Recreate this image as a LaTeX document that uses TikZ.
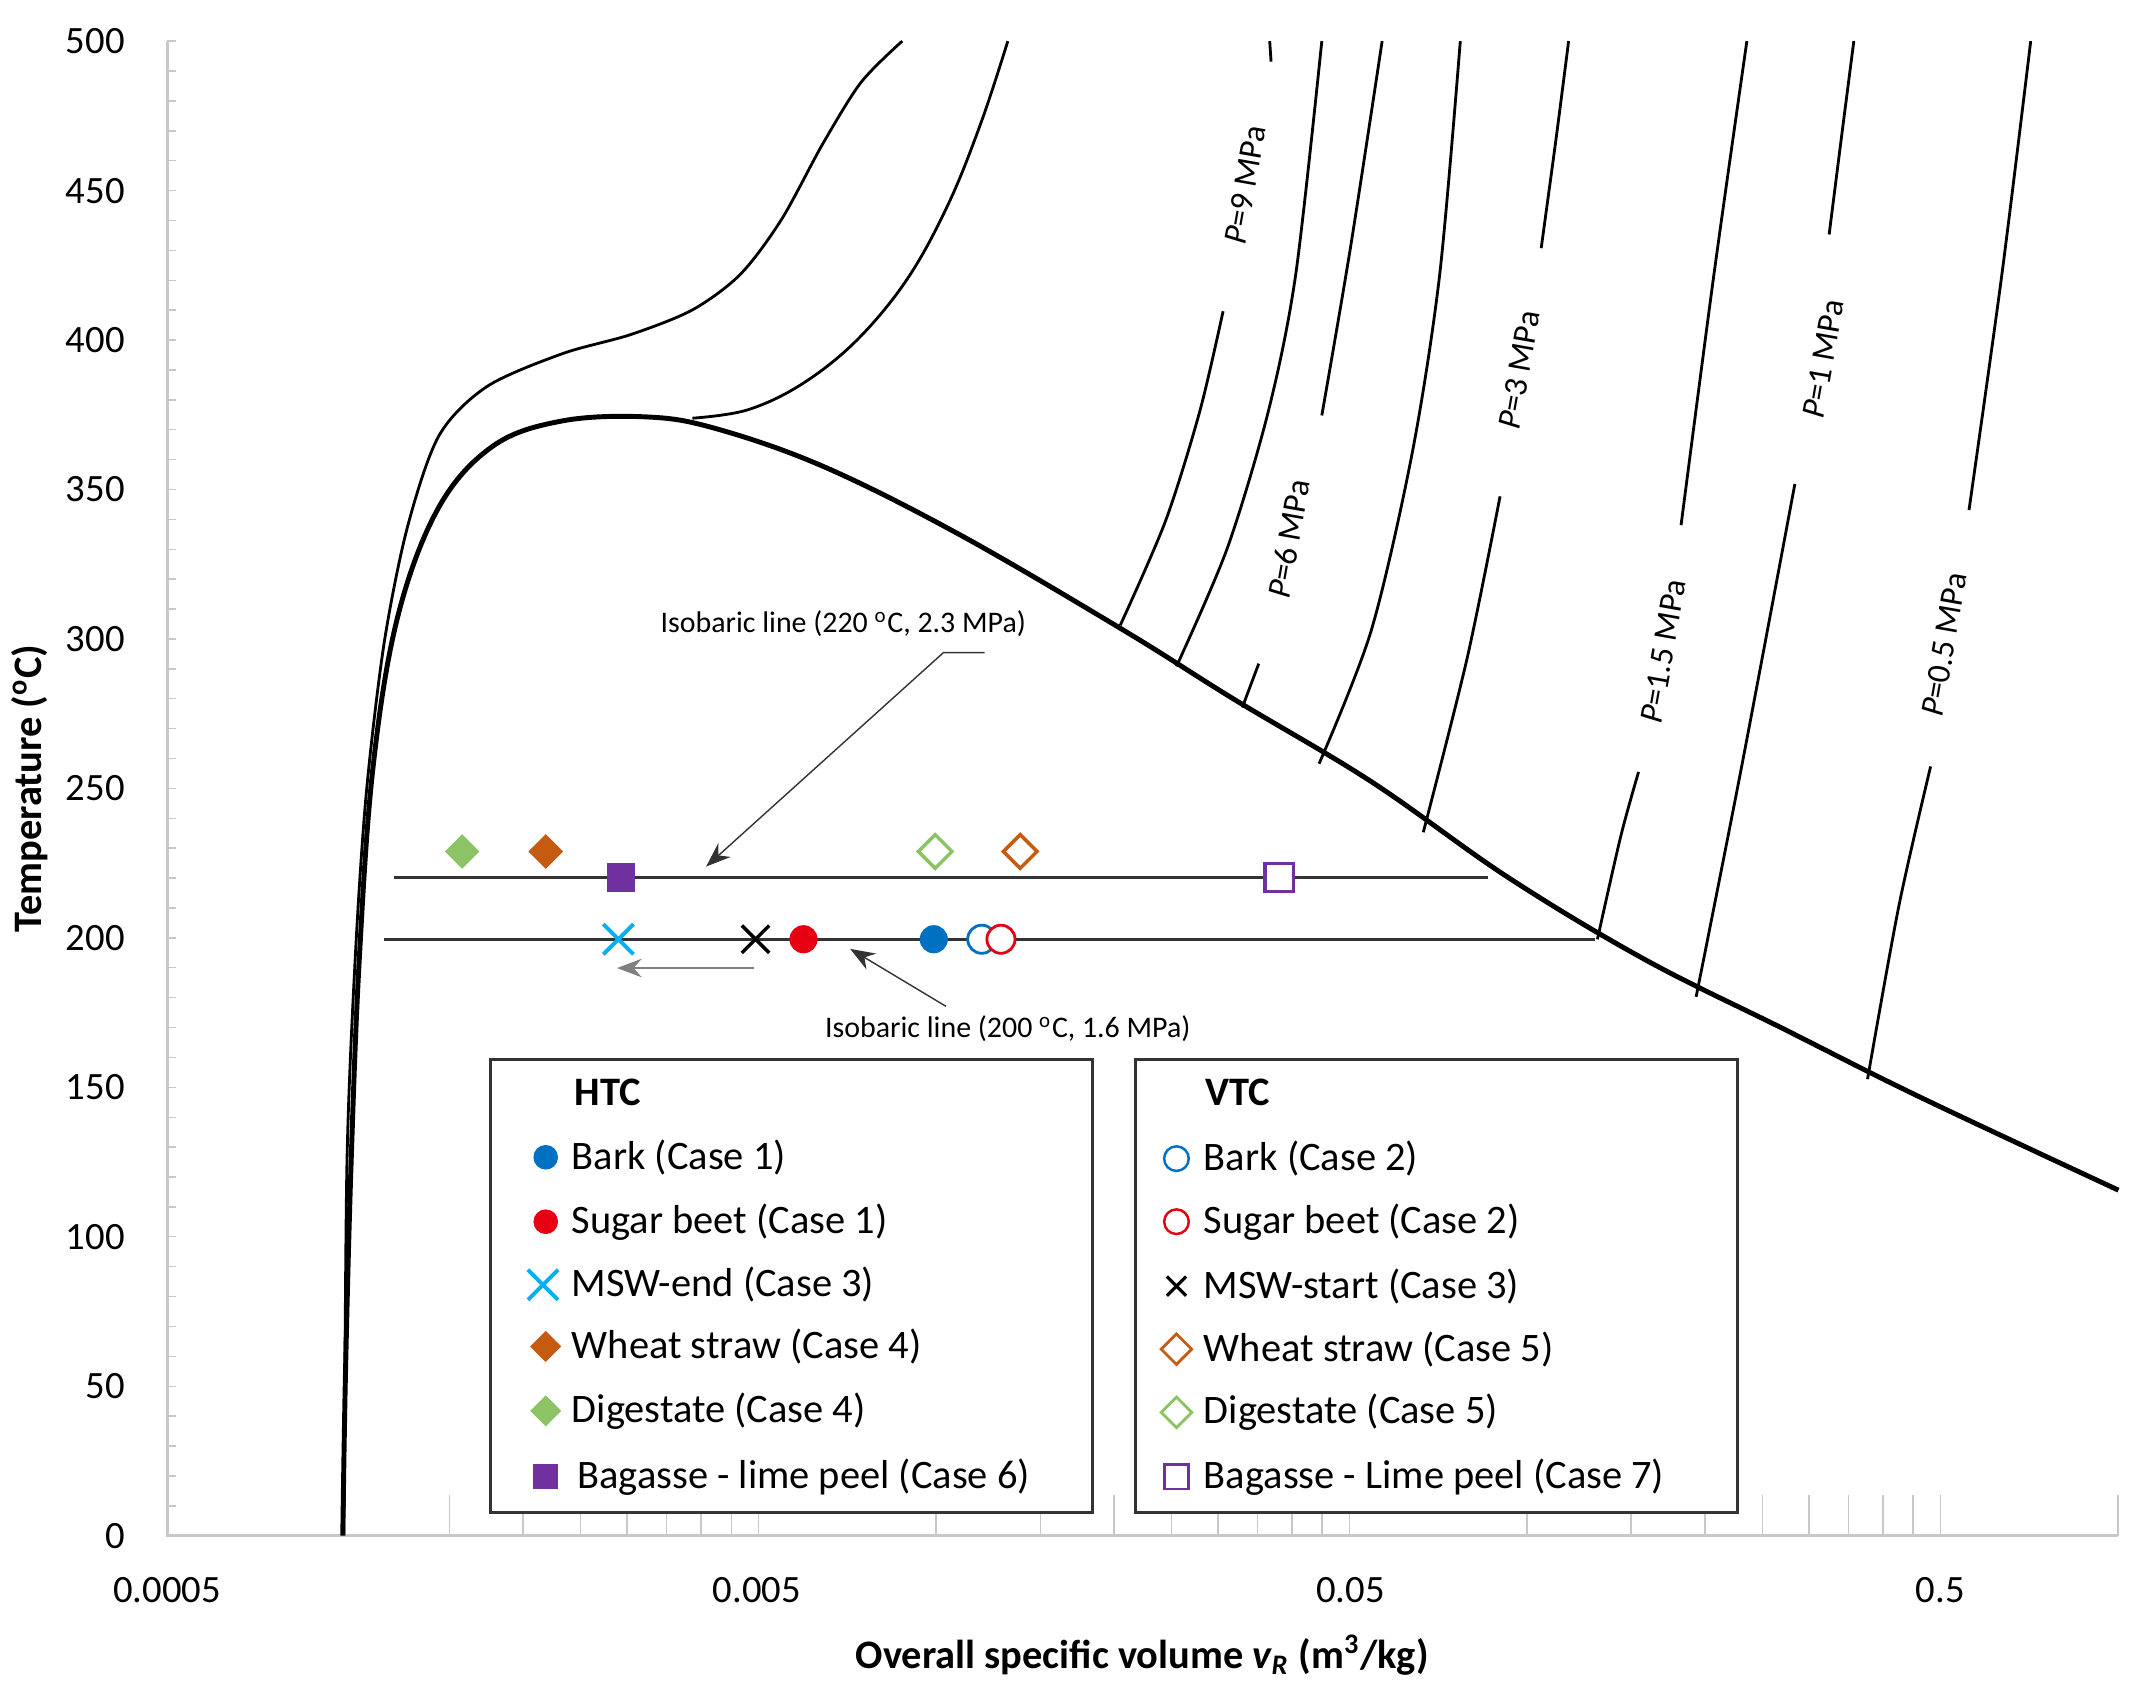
\documentclass[tikz,border=0pt]{standalone}
\usepackage{fontspec}
\setmainfont{Carlito}
\usetikzlibrary{arrows.meta,shapes.geometric}
\definecolor{cblue}{RGB}{0,112,192}
\definecolor{cred}{RGB}{230,0,18}
\definecolor{ccyan}{RGB}{0,176,240}
\definecolor{corange}{RGB}{197,90,17}
\definecolor{cgreen}{RGB}{140,195,100}
\definecolor{cpurple}{RGB}{112,48,160}
\definecolor{axg}{RGB}{200,200,200}
\begin{document}
\begin{tikzpicture}[x=0.01371cm,y=-0.01371cm,
 tick/.style={font=\fontsize{11}{13}\selectfont,anchor=east},
 xtick/.style={font=\fontsize{11}{13}\selectfont},
 plab/.style={font=\fontsize{9.5}{11}\selectfont,rotate=80,inner sep=1pt},
 iso/.style={line width=0.9pt,black!80},
 curve/.style={line width=0.8pt},
 leg/.style={font=\fontsize{11.5}{14}\selectfont,anchor=west},
 box/.style={draw=black!80,line width=0.8pt,fill=white},
 fd/.style={diamond,inner sep=0pt,minimum size=11pt},
 fs/.style={rectangle,inner sep=0pt,minimum size=8pt},
 fc/.style={circle,inner sep=0pt,minimum size=8pt}]
\useasboundingbox (0,0) rectangle (1560,1233);
% axes
\draw[axg,line width=0.8pt] (122,30) -- (122,1120) -- (1545,1120);
\foreach \t in {0,10,...,500}{\draw[axg] (122,{1120-\t*2.18}) -- (128,{1120-\t*2.18});}
\foreach \t in {0,50,...,500}{\node[tick] (yt\t) at (100,{1120-\t*2.18}) {\t};}
\foreach \d in {0,1,2}{\foreach \m in {2,...,10}{
 \pgfmathsetmacro{\xx}{122+431*(\d+log10(\m))}
 \draw[axg] (\xx,1120) -- (\xx,1090);}}
\pgfmathsetmacro{\xx}{122+431*(3+log10(2))}
\draw[axg] (\xx,1120) -- (\xx,1090);
\node[xtick] (x1) at (122,1160) {0.0005};
\node[xtick] (x2) at (552,1160) {0.005};
\node[xtick] (x3) at (985,1160) {0.05};
\node[xtick] (x4) at (1415,1160) {0.5};
\node[font=\fontsize{11.5}{14}\selectfont\bfseries] (xl) at (833,1207) {Overall specific volume \textit{v\textsubscript{R}} (m\textsuperscript{3}/kg)};
\node[font=\fontsize{11.5}{14}\selectfont\bfseries,rotate=90] (yl) at (22,575) {Temperature (\textsuperscript{o}C)};
% dome
\draw[line width=1.4pt] plot[smooth,tension=0.6] coordinates {(250,1120)(252,1000)(256,850)(262,700)(272,560)(290,450)(320,370)(360,325)(410,307)(470,304)(520,312)(600,340)(700,390)(820,460)(900,510)(1000,570)(1100,640)(1200,700)(1300,750)(1400,800)(1545,868)};
\draw[curve] plot[smooth,tension=0.5] coordinates {(251,1100)(253,850)(259,700)(267,580)(280,470)(297,385)(320,318)(355,282)(410,258)(460,244)(505,226)(540,200)(570,160)(600,105)(628,60)(658,30)};
\draw[curve] plot[smooth,tension=0.6] coordinates {(505,305)(545,299)(585,280)(625,248)(662,203)(692,148)(716,88)(735,30)};
% isobars
\draw[curve] plot[smooth] coordinates {(817,456)(850,380)(875,300)(892,227)};
\draw[curve] (926,30) -- (927,45);
\draw[curve] plot[smooth] coordinates {(858,486)(895,400)(925,300)(945,200)(964,30)};
\draw[curve] (906,516) -- (918,484);
\draw[curve] plot[smooth] coordinates {(964,303)(985,180)(1008,30)};
\draw[curve] plot[smooth] coordinates {(962,557)(1000,460)(1030,330)(1050,200)(1065,30)};
\draw[curve] plot[smooth] coordinates {(1038,607)(1070,480)(1094,362)};
\draw[curve] plot[smooth] coordinates {(1124,181)(1135,100)(1144,30)};
\draw[curve] plot[smooth] coordinates {(1165,685)(1182,610)(1195,563)};
\draw[curve] plot[smooth] coordinates {(1226,383)(1250,200)(1274,30)};
\draw[curve] plot[smooth] coordinates {(1237,727)(1270,560)(1309,353)};
\draw[curve] plot[smooth] coordinates {(1334,171)(1343,100)(1352,30)};
\draw[curve] plot[smooth] coordinates {(1362,787)(1385,660)(1408,559)};
\draw[curve] plot[smooth] coordinates {(1436,372)(1460,200)(1481,30)};
\node[plab] (p9) at (908,135) {\textit{P}=9 MPa};
\node[plab] (p6) at (940,393) {\textit{P}=6 MPa};
\node[plab] (p3) at (1108,270) {\textit{P}=3 MPa};
\node[plab] (p15) at (1213,475) {\textit{P}=1.5 MPa};
\node[plab] (p1) at (1330,262) {\textit{P}=1 MPa};
\node[plab] (p05) at (1418,470) {\textit{P}=0.5 MPa};
% isobaric lines
\coordinate (a1) at (287,640); \coordinate (a2) at (1085,640);
\coordinate (b1) at (280,685); \coordinate (b2) at (1163,685);
\draw[iso] (a1) -- (a2);
\draw[iso] (b1) -- (b2);
\node[font=\fontsize{8.5}{10}\selectfont] (l220) at (615,455) {Isobaric line (220 \textsuperscript{o}C, 2.3 MPa)};
\node[font=\fontsize{8.5}{10}\selectfont] (l200) at (735,750) {Isobaric line (200 \textsuperscript{o}C, 1.6 MPa)};
\coordinate (c1) at (718,476); \coordinate (c2) at (688,476); \coordinate (c3) at (515,632);
\draw[black!80,-{Stealth[length=7pt]}] (c1) -- (c2) -- (c3);
\coordinate (d1) at (690,734); \coordinate (d2) at (620,692);
\draw[black!80,-{Stealth[length=7pt]}] (d1) -- (d2);
\coordinate (e1) at (550,706); \coordinate (e2) at (450,706);
\draw[black!50,line width=0.8pt,-{Stealth[length=7pt]}] (e1) -- (e2);
% markers
\node[fd,fill=cgreen,minimum size=10pt] (m1) at (337,621) {};
\node[fd,fill=corange,minimum size=10pt] (m2) at (398,621) {};
\node[fs,fill=cpurple] (m3) at (453,640) {};
\node[fd,draw=cgreen,line width=1pt,minimum size=10pt,fill=white] (m4) at (682,621) {};
\node[fd,draw=corange,line width=1pt,minimum size=10pt,fill=white] (m5) at (744,621) {};
\node[fs,draw=cpurple,line width=1pt,fill=white] (m6) at (933,640) {};
\draw[ccyan,line width=1.1pt] (440,674) -- (462,696) (440,696) -- (462,674);
\node[inner sep=0pt] (m7) at (451,685) {};
\draw[black,line width=1pt] (541,675) -- (561,695) (541,695) -- (561,675);
\node[inner sep=0pt] (m8) at (551,685) {};
\node[fc,fill=cred] (m9) at (586,685) {};
\node[fc,fill=cblue] (m10) at (681,685) {};
\node[fc,draw=cblue,fill=white,line width=0.8pt] (m11) at (716,685) {};
\node[fc,draw=cred,fill=white,line width=0.8pt] (m12) at (730,685) {};
% legends
\draw[box] (358,773) rectangle (797,1103);
\draw[box] (828,773) rectangle (1267,1103);
\node[leg,font=\fontsize{11.5}{14}\selectfont\bfseries] (h0) at (410,797) {HTC};
\node[leg,font=\fontsize{11.5}{14}\selectfont\bfseries] (v0) at (870,797) {VTC};
\node[fc,fill=cblue,minimum size=7pt] at (398,844) {};
\node[leg] (h1) at (408,844) {Bark (Case 1)};
\node[fc,fill=cred,minimum size=7pt] at (398,891) {};
\node[leg] (h2) at (408,891) {Sugar beet (Case 1)};
\draw[ccyan,line width=1.1pt] (385,926) -- (407,948) (385,948) -- (407,926);
\node[leg] (h3) at (408,937) {MSW-end (Case 3)};
\node[fd,fill=corange,minimum size=9pt] at (398,982) {};
\node[leg] (h4) at (408,982) {Wheat straw (Case 4)};
\node[fd,fill=cgreen,minimum size=9pt] at (398,1029) {};
\node[leg] (h5) at (408,1029) {Digestate (Case 4)};
\node[fs,fill=cpurple,minimum size=7pt] at (398,1077) {};
\node[leg] (h6) at (412,1077) {Bagasse - lime peel (Case 6)};
\node[fc,draw=cblue,line width=0.7pt,minimum size=7pt] at (858,845) {};
\node[leg] (v1) at (869,845) {Bark (Case 2)};
\node[fc,draw=cred,line width=0.7pt,minimum size=7pt] at (858,891) {};
\node[leg] (v2) at (869,891) {Sugar beet (Case 2)};
\draw[black,line width=0.9pt] (851,931) -- (865,945) (851,945) -- (865,931);
\node[leg] (v3) at (869,938) {MSW-start (Case 3)};
\node[fd,draw=corange,line width=0.8pt,minimum size=9pt] at (858,984) {};
\node[leg] (v4) at (869,984) {Wheat straw (Case 5)};
\node[fd,draw=cgreen,line width=0.8pt,minimum size=9pt] at (858,1030) {};
\node[leg] (v5) at (869,1030) {Digestate (Case 5)};
\node[fs,draw=cpurple,line width=0.8pt,minimum size=7pt] at (858,1077) {};
\node[leg] (v6) at (869,1077) {Bagasse - Lime peel (Case 7)};
\end{tikzpicture}
\end{document}
